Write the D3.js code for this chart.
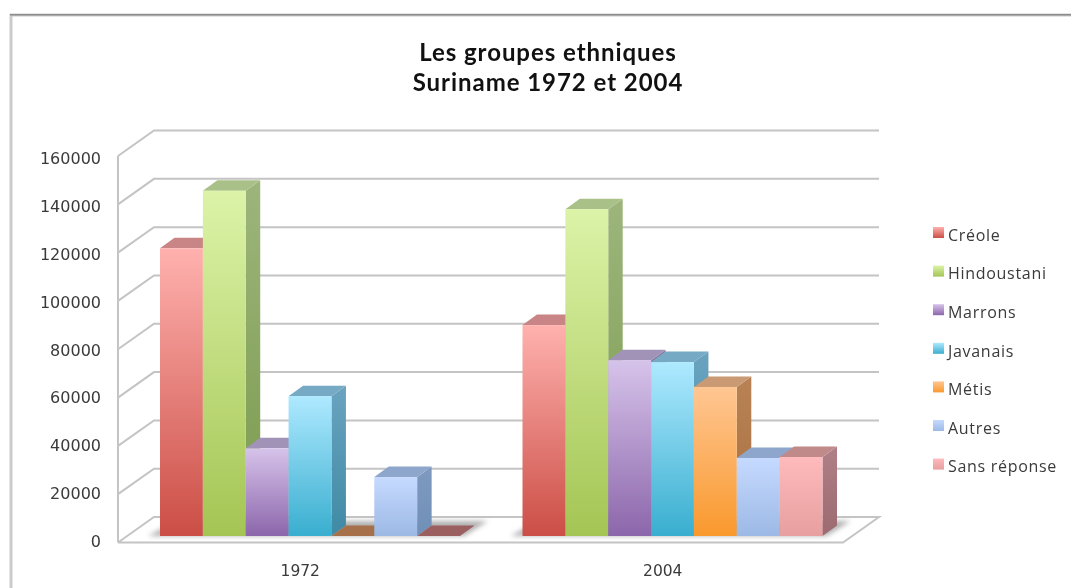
<!DOCTYPE html>
<html>
<head>
<meta charset="utf-8">
<script src="https://cdnjs.cloudflare.com/ajax/libs/d3/7.8.5/d3.min.js"></script>
<style>
html, body { margin: 0; padding: 0; background: #fff; overflow: hidden; }
svg { display: block; filter: blur(0.6px); }
</style>
</head>
<body>
<script>
// values
var years = ["1972", "2004"];
var groups = ["Créole", "Hindoustani", "Marrons", "Javanais", "Métis", "Autres", "Sans réponse"];
var values1972 = [119100, 142900, 36300, 57900, 0, 24400, 0];
var values2004 = [87300, 135300, 72800, 72000, 61700, 32300, 32700];
var ticks = [0, 20000, 40000, 60000, 80000, 100000, 120000, 140000, 160000];
var title = ["Les groupes ethniques", "Suriname 1972 et 2004"];

var lightColors = ["#ffb1ae", "#dcf3a8", "#d6c3ea", "#aee9ff", "#ffc693", "#c6daff", "#ffbabb"];
var darkColors = ["#cb4e46", "#a4c554", "#8c66ab", "#39aecf", "#f9992d", "#9cb9e5", "#e79f9f"];
var topColors = ["#c98585", "#a9c188", "#a193b8", "#75a9c4", "#c99a73", "#8ea6cc", "#c08a8a"];
var sideColors = ["#a86a6a", "#9db57c", "#8a7aa0", "#6aa3bf", "#b98255", "#7f99bf", "#b08088"];
var sideDark = ["#8f4a4a", "#7a9a4c", "#6a5a90", "#3f8aa5", "#a87040", "#7090b8", "#9c6a70"];
var floorTop = ["#9c5f5f", "#8ea86a", "#8a7aa0", "#5f9dbb", "#a5704a", "#7f99bf", "#9c5f5f"];

var width = 1071;
var height = 588;

// perspective of the box and of the bars standing in it
var wallDx = 36, wallDy = -25.5;
var barDx = 14.5, barDy = -10.5, barShift = -6.5;

var x0 = d3.scaleBand().domain(years).range([118, 843]);
var x1 = d3.scaleBand().domain(groups).range([42, 342]);
var y = d3.scaleLinear().domain([0, 160000]).range([542.5, 156]);
// the labels do not sit exactly on the wall lines in the picture
var yLabel = d3.scaleLinear().domain([0, 160000]).range([541, 158.5]);

var svg = d3.select("body").append("svg")
    .attr("width", width)
    .attr("height", height);

var defs = svg.append("defs");
defs.append("filter").attr("id", "soft")
    .attr("x", "-5%").attr("y", "-30%").attr("width", "110%").attr("height", "160%")
    .append("feGaussianBlur").attr("stdDeviation", 2.5);

groups.forEach(function(g, i) {
    var grad = defs.append("linearGradient").attr("id", "front" + i)
        .attr("x1", 0).attr("y1", 0).attr("x2", 0).attr("y2", 1);
    grad.append("stop").attr("offset", "0%").attr("stop-color", lightColors[i]);
    grad.append("stop").attr("offset", "100%").attr("stop-color", darkColors[i]);
    var side = defs.append("linearGradient").attr("id", "side" + i)
        .attr("x1", 0).attr("y1", 0).attr("x2", 0).attr("y2", 1);
    side.append("stop").attr("offset", "0%").attr("stop-color", sideColors[i]);
    side.append("stop").attr("offset", "100%").attr("stop-color", sideDark[i]);
});

// outer frame, only top and left show up
svg.append("rect").attr("x", 11).attr("y", 15).attr("width", 1080).attr("height", 600)
    .style("fill", "#fff").style("stroke", "#cbcbcb").style("stroke-width", 3);
svg.append("line").attr("x1", 10).attr("y1", 14.7).attr("x2", 1071).attr("y2", 14.7)
    .style("stroke", "#8c8c8c").style("stroke-width", 1.5);

// walls
var grid = svg.append("g").style("fill", "none").style("stroke", "#c4c4c4").style("stroke-width", 2);
grid.selectAll("polyline").data(ticks.filter(d => d > 0)).enter().append("polyline")
    .attr("points", d => [[118, y(d)], [118 + wallDx, y(d) + wallDy], [843 + wallDx, y(d) + wallDy]].join(" "));
grid.append("polyline")
    .attr("points", [[118, y(0)], [118 + wallDx, y(0) + wallDy], [843 + wallDx, y(0) + wallDy], [843, y(0)], [118, y(0)]].join(" "));
grid.append("line").attr("x1", 118).attr("y1", y(160000)).attr("x2", 118).attr("y2", y(0));

var base = y(0) + barShift;
var bw = x1.bandwidth();

// shadow on the floor
var rows = [{ year: "1972", values: values1972 }, { year: "2004", values: values2004 }];
svg.append("g").selectAll("polygon").data(rows).enter().append("polygon")
    .attr("points", function(d) {
        var a = x0(d.year) + x1(groups[0]);
        var b = x0(d.year) + x1(groups[6]) + bw;
        return [[a - 12, base], [b + 4, base], [b + 28, base - 15], [a + 16, base - 15]].join(" ");
    })
    .style("fill", "#b0b0b0")
    .attr("filter", "url(#soft)");

// bars
var bars = [];
rows.forEach(function(r) {
    r.values.forEach(function(v, i) {
        bars.push({ year: r.year, i: i, name: groups[i], value: v });
    });
});

function bx(d) { return x0(d.year) + x1(d.name); }
function by(d) { return y(d.value) + barShift; }

var bar = svg.append("g").selectAll("g").data(bars).enter().append("g");

bar.append("polygon")
    .attr("points", d => [[bx(d) + bw, by(d)], [bx(d) + bw + barDx, by(d) + barDy], [bx(d) + bw + barDx, base + barDy], [bx(d) + bw, base]].join(" "))
    .style("fill", d => "url(#side" + d.i + ")");

bar.append("polygon")
    .attr("points", d => [[bx(d), by(d)], [bx(d) + barDx, by(d) + barDy], [bx(d) + bw + barDx, by(d) + barDy], [bx(d) + bw, by(d)]].join(" "))
    .style("fill", d => d.value > 0 ? topColors[d.i] : floorTop[d.i]);

bar.filter(d => d.value > 0).append("rect")
    .attr("x", d => bx(d))
    .attr("y", d => by(d))
    .attr("width", bw)
    .attr("height", d => base - by(d))
    .style("fill", d => "url(#front" + d.i + ")");

// tick labels
svg.append("g").selectAll("text").data(ticks).enter().append("text")
    .attr("x", 101)
    .attr("y", d => yLabel(d))
    .attr("dy", "0.36em")
    .attr("text-anchor", "end")
    .style("font-family", "'DejaVu Sans'")
    .style("font-size", "16px")
    .style("fill", "#3a3a3a")
    .text(d => d);

svg.append("g").selectAll("text").data(years).enter().append("text")
    .attr("x", d => x0(d) + x0.bandwidth() / 2 + 1)
    .attr("y", 576)
    .attr("text-anchor", "middle")
    .style("font-family", "'DejaVu Sans'")
    .style("font-size", "15.5px")
    .style("fill", "#3a3a3a")
    .text(d => d);

// title
svg.append("g").selectAll("text").data(title).enter().append("text")
    .attr("x", 548)
    .attr("y", (d, i) => 61 + i * 30)
    .attr("text-anchor", "middle")
    .style("font-family", "Lato")
    .style("font-weight", "bold")
    .style("font-size", "24px")
    .style("letter-spacing", "0.95px")
    .style("fill", "#111")
    .text(d => d);

// legend
var legend = svg.append("g").selectAll("g").data(groups).enter().append("g")
    .attr("transform", (d, i) => "translate(933," + (232.5 + i * 38.6) + ")");
legend.append("rect")
    .attr("y", -5.5).attr("width", 11).attr("height", 11)
    .style("fill", (d, i) => "url(#front" + i + ")");
legend.append("text")
    .attr("x", 15)
    .attr("y", 2.5)
    .attr("dy", "0.36em")
    .style("font-family", "'Open Sans'")
    .style("font-size", "16px")
    .style("letter-spacing", "0.7px")
    .style("fill", "#3a3a3a")
    .text(d => d);
</script>
</body>
</html>
